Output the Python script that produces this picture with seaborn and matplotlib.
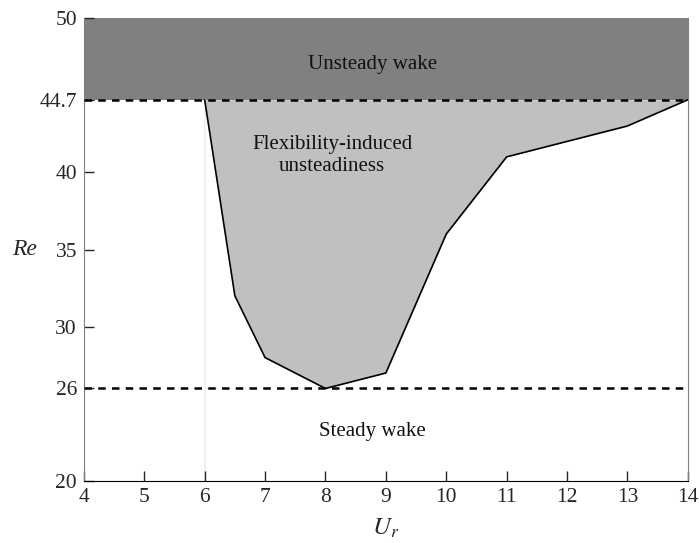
import numpy as np
import pandas as pd
import matplotlib
matplotlib.use("Agg")
import matplotlib.pyplot as plt
import seaborn as sns

# boundary of the flexibility-induced unsteady region
ur = [6, 6.5, 7, 8, 9, 10, 11, 13, 14]
re_boundary = [44.7, 32, 28, 26, 27, 36, 41, 43, 44.7]

re_crit_upper = 44.7   # onset of unsteady wake (rigid)
re_crit_lower = 26     # lowest Re for unsteadiness
x_ticks = [4, 5, 6, 7, 8, 9, 10, 11, 12, 13, 14]
y_ticks = [20, 26, 30, 35, 40, 44.7, 50]
y_ticklabels = ["20", "26", "30", "35", "40", "44.7", "50"]

sns.set_style("ticks")
plt.rcParams["font.family"] = ["Liberation Serif", "DejaVu Serif"]
plt.rcParams["mathtext.fontset"] = "stix"

df = pd.DataFrame({"Ur": ur, "Re": re_boundary})

fig = plt.figure(figsize=(6.99, 5.43), dpi=100)
ax = fig.add_axes([0.120, 0.114, 0.864, 0.853])

ax.axhspan(re_crit_upper, 50, color="#808080", lw=0, zorder=0)
ax.fill_between(df["Ur"], df["Re"], re_crit_upper, color="#c0c0c0", lw=0, zorder=1)
ax.plot([6, 6], [20, re_crit_upper], color="#f0f0f0", lw=1.5, zorder=0.5)
sns.lineplot(data=df, x="Ur", y="Re", color="black", lw=1.2, ax=ax, zorder=3,
             sort=False)
ax.axhline(re_crit_upper, color="black", ls=(0, (3, 2.5)), lw=1.8, zorder=4)
ax.axhline(re_crit_lower, color="black", ls=(0, (3, 2.5)), lw=1.8, zorder=4)

ax.text(8.78, 47.0, "Unsteady wake", ha="center", va="center", fontsize=15,
        color="#111111")
ax.text(8.11, 41.1, "Flexibility-induced\nunsteadiness", ha="center", va="center",
        fontsize=15, linespacing=1.2, color="#111111")
ax.text(8.78, 23.2, "Steady wake", ha="center", va="center", fontsize=15,
        color="#111111")

ax.set_xlim(4, 14)
ax.set_ylim(20, 50)
ax.set_xticks(x_ticks)
ax.set_yticks(y_ticks)
ax.set_yticklabels(y_ticklabels)
ax.tick_params(direction="in", length=7, width=1, labelsize=15.5, pad=5)
ax.set_xlabel(r"$U_r$", fontsize=18, labelpad=7)
ax.set_ylabel("Re", fontsize=17, style="italic", rotation=0, labelpad=11,
              va="center")

ax.spines["top"].set_visible(False)
ax.spines["left"].set_color("#808080")
ax.spines["right"].set_color("#808080")
ax.spines["bottom"].set_color("black")

fig.savefig("out.png", dpi=100)
